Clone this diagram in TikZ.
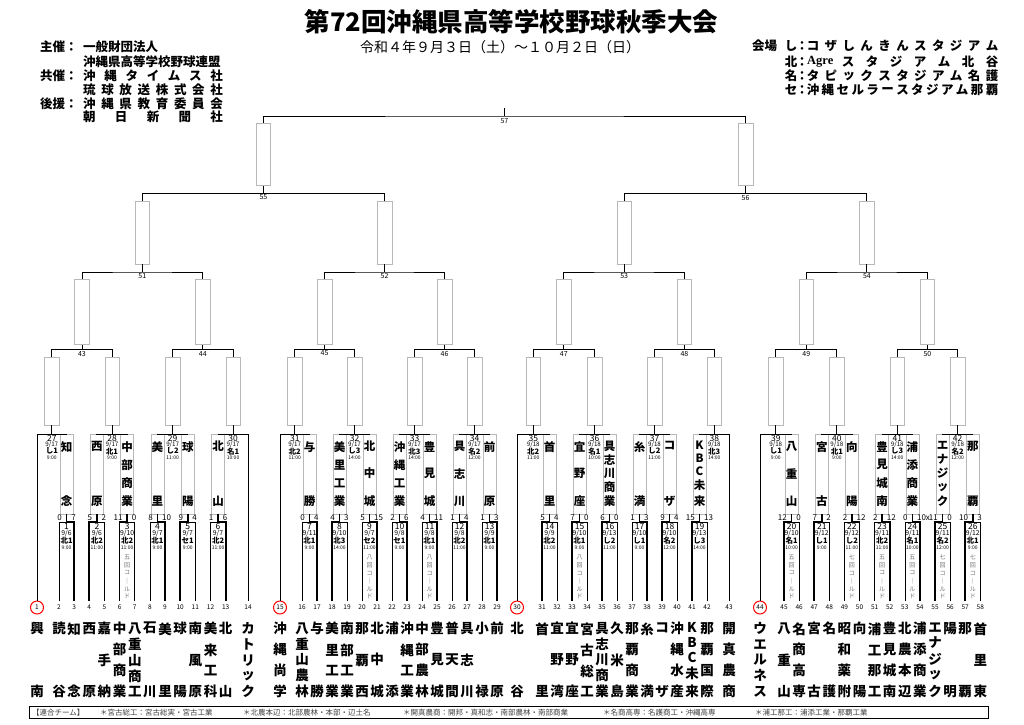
\documentclass[tikz,border=0pt]{standalone}
\usepackage{fontspec}
\setmainfont{Noto Sans CJK JP}
\newfontfamily\serifb{Liberation Serif}
\usetikzlibrary{calc}
\def\vstendmark{\vstendmark}
\newcommand\vst[3]{\edef\vsttmp{#3}\vbox to #1{\offinterlineskip\def\vstw{#2}\expandafter\vstfirst\vsttmp\vstendmark}}
\def\vstfirst#1{\ifx#1\vstendmark\else\hbox to\vstw{\hss#1\hss}\expandafter\vstrest\fi}
\def\vstrest#1{\ifx#1\vstendmark\else\vfill\hbox to\vstw{\hss#1\hss}\expandafter\vstrest\fi}
\tikzset{
 lose/.style={line width=0.6pt},
 winl/.style={line width=1.7pt},
 bline/.style={line width=0.8pt},
 nbox/.style={draw=black!28, line width=0.5pt, minimum width=13pt, minimum height=80pt, inner sep=0pt, anchor=south, font=\bfseries\fontsize{11.5}{11.5}\selectfont},
 ebox/.style={draw=black!28, line width=0.5pt, minimum width=14.5pt, inner sep=0pt, anchor=south},
 tname/.style={inner sep=0pt, font=\bfseries\fontsize{13.5}{13.5}\selectfont},
 tnum/.style={inner sep=0pt, font=\fontsize{6.5}{6.5}\selectfont},
 score/.style={inner sep=0pt, font=\fontsize{8}{8}\selectfont},
 gnum/.style={inner sep=0pt, font=\fontsize{8.5}{8.5}\selectfont},
 gdate/.style={inner sep=0pt, font=\fontsize{6.2}{6.2}\selectfont},
 fdate/.style={inner sep=0pt, font=\fontsize{6.8}{6.8}\selectfont},
 gven/.style={inner sep=0pt, font=\bfseries\fontsize{7.5}{7.5}\selectfont},
 gtime/.style={inner sep=0pt, font=\fontsize{5}{5}\selectfont},
 gnote/.style={inner sep=0pt, text=black!55, font=\fontsize{6}{6}\selectfont},
 lnum/.style={inner sep=0pt, font=\fontsize{7}{7}\selectfont},
 hdr/.style={inner sep=0pt, font=\bfseries\fontsize{12.5}{12.5}\selectfont},
 seedc/.style={circle, draw=red, line width=1pt, minimum size=13pt, inner sep=0pt},
 leg/.style={inner sep=0pt, anchor=west, text=black!75, font=\fontsize{7.5}{7.5}\selectfont},
}
\begin{document}
\begin{tikzpicture}[x=1pt,y=-1pt]
\useasboundingbox (0,0) rectangle (1024,724);
\fill[white] (0,0) rectangle (1024,724);
% ---------- titles
\node[inner sep=0pt, font=\bfseries\fontsize{25.5}{25.5}\selectfont] (title) at (511.5,22) {第72回沖縄県高等学校野球秋季大会};
\node[inner sep=0pt, font=\fontsize{14}{14}\selectfont] (sub) at (500,47) {令和４年９月３日（土）～１０月２日（日）};
% ---------- left header
\node[hdr, anchor=west] (hl1) at (40,47) {主催：};
\node[hdr, anchor=west] (hl2) at (83,47) {一般財団法人};
\node[hdr, anchor=west] (hl3) at (83,62) {沖縄県高等学校野球連盟};
\node[hdr, anchor=west] (hl4) at (40,76) {共催：};
\node[hdr, anchor=west] (hl5) at (40,104) {後援：};
\foreach \c [count=\k] in {沖,縄,タ,イ,ム,ス,社} \node[hdr] (hA\k) at ({89.4+(\k-1)*127.2/6},76) {\c};
\foreach \c [count=\k] in {琉,球,放,送,株,式,会,社} \node[hdr] (hB\k) at ({89.4+(\k-1)*127.2/7},90) {\c};
\foreach \c [count=\k] in {沖,縄,県,教,育,委,員,会} \node[hdr] (hC\k) at ({89.4+(\k-1)*127.2/7},104) {\c};
\foreach \c [count=\k] in {朝,日,新,聞,社} \node[hdr] (hD\k) at ({89.4+(\k-1)*127.2/4},117) {\c};
% ---------- right header
\node[hdr, anchor=west] (hr0) at (752,46) {会場};
\foreach \c/\y [count=\k] in {し/46,北/62,名/76,セ/90} {\node[hdr] (hrL\k) at (791,\y) {\c}; \node[hdr] (hrC\k) at (802,\y) {：};}
\foreach \c [count=\k] in {コ,ザ,し,ん,き,ん,ス,タ,ジ,ア,ム} \node[hdr] (hrA\k) at ({813+(\k-1)*179/10},46) {\c};
\node[inner sep=0pt, anchor=west, font=\serifb\bfseries\fontsize{12.5}{12.5}\selectfont] (hrAg) at (807,62) {Agre};
\foreach \c [count=\k] in {ス,タ,ジ,ア,ム,北,谷} \node[hdr] (hrB\k) at ({848+(\k-1)*144/6},62) {\c};
\foreach \c [count=\k] in {タ,ピ,ッ,ク,ス,タ,ジ,ア,ム,名,護} \node[hdr] (hrC\k) at ({813+(\k-1)*179/10},76) {\c};
\foreach \c [count=\k] in {沖,縄,セ,ル,ラ,ー,ス,タ,ジ,ア,ム,那,覇} \node[hdr] (hrD\k) at ({813+(\k-1)*179/12},90) {\c};
% ---------- teams
\foreach \n/\x/\nm in {1/37/興南,2/59/読谷,3/74.15/知念,4/89.3/西原,5/104.45/嘉手納,6/119.6/中部商業,7/134.75/八重山商工,8/149.9/石川,9/165.05/美里,10/180.2/球陽,11/195.35/南風原,12/210.5/美来工科,13/225.65/北山,14/248/カトリック,15/280/沖縄尚学,16/302/八重山農林,17/317/与勝,18/332/美里工業,19/347/南部工業,20/362/那覇西,21/377/北中城,22/392/浦添,23/407/沖縄工業,24/422/中部農林,25/437/豊見城,26/452/普天間,27/467/具志川,28/482/小禄,29/497/前原,30/517/北谷,31/542/首里,32/557/宜野湾,33/572/宜野座,34/587/宮古総工,35/602/具志川商業,36/617/久米島,37/632/那覇商業,38/647/糸満,39/662/コザ,40/677/沖縄水産,41/692/KBC未来,42/707/那覇国際,43/729/開真農商,44/760/ウエルネス,45/784/八重山,46/799.1/名商高専,47/814.2/宮古,48/829.3/名護,49/844.4/昭和薬附,50/859.5/向陽,51/874.6/浦工那工,52/889.7/豊見城南,53/904.8/北農本辺,54/919.9/浦添商業,55/935/エナジック,56/950.1/陽明,57/965.2/那覇,58/980.3/首里東}
{
 \coordinate (T\n) at (\x,601);
 \node[tnum] (N\n) at (\x,607.5) {\n};
 \node[tname] (TN\n) at (\x,660) {\vst{74pt}{14pt}{\nm}};
}
\foreach \n in {1,15,30,44} \node[seedc] (C\n) at (N\n) {};
% ---------- first round
\foreach \g/\a/\bb/\ww/\scA/\scB/\dd/\vn/\tm/\nt/\wn in {
1/2/3/2/0/7/6/北1/9:00/0/知念,
2/4/5/1/5/2/6/北2/11:00/0/西原,
3/6/7/1/11/0/10/北2/11:00/1/中部商業,
4/8/9/2/8/10/7/北1/9:00/0/美里,
5/10/11/1/9/4/7/セ1/9:00/0/球陽,
6/12/13/2/1/6/7/北2/11:00/0/北山,
7/16/17/2/0/4/11/北1/9:00/0/与勝,
8/18/19/1/4/3/10/北3/14:00/0/美里工業,
9/20/21/2/5/15/7/セ2/11:00/3/北中城,
10/22/23/2/2/6/8/セ1/9:00/0/沖縄工業,
11/24/25/2/4/11/8/北1/9:00/3/豊見城,
12/26/27/2/1/4/8/北2/11:00/0/具志川,
13/28/29/2/1/3/9/北1/9:00/0/前原,
14/31/32/1/5/4/9/北2/11:00/0/首里,
15/33/34/1/7/0/10/北1/9:00/3/宜野座,
16/35/36/1/6/0/13/し2/11:00/0/具志川商業,
17/37/38/2/1/3/10/し1/9:00/0/糸満,
18/39/40/1/9/4/10/名2/12:00/0/コザ,
19/41/42/1/15/13/13/し3/14:00/0/KBC未来,
20/45/46/1/12/0/10/名1/10:00/1/八重山,
21/47/48/1/7/2/12/し1/9:00/0/宮古,
22/49/50/2/2/12/12/し2/11:00/2/向陽,
23/51/52/2/2/12/11/北2/11:00/1/豊見城南,
24/53/54/2/0/10x/11/名1/10:00/1/浦添商業,
25/55/56/1/11/0/11/名2/12:00/2/エナジック,
26/57/58/1/10/3/12/北1/9:00/2/那覇}
{
 \coordinate (G\g) at ($(T\a)!0.5!(T\bb)+(0,-79)$);
 \node[nbox] (W\g) at ($(G\g)+(0,-8)$) {\vst{64pt}{12pt}{\wn}};
 \ifnum\ww=1
   \draw[lose] (T\bb) |- (G\g);
   \draw[winl] (T\a) |- (G\g) -- (W\g.south);
 \else
   \draw[lose] (T\a) |- (G\g);
   \draw[winl] (T\bb) |- (G\g) -- (W\g.south);
 \fi
 \node[score, anchor=east] (SA\g) at ($(G\g)+(-4.5,-4)$) {\scA};
 \node[score, anchor=west] (SB\g) at ($(G\g)+(4.5,-4)$) {\scB};
 \node[gnum] (GN\g) at ($(G\g)+(0,4.6)$) {\g};
 \node[fdate] (GD\g) at ($(G\g)+(0,11.6)$) {9/\dd};
 \node[gven] (GV\g) at ($(G\g)+(0,18.8)$) {\vn};
 \node[gtime] (GT\g) at ($(G\g)+(0,25.8)$) {\tm};
 \ifcase\nt\or\def\ntx{五回コ｜ルド}\or\def\ntx{七回コ｜ルド}\or\def\ntx{八回コ｜ルド}\fi
 \ifnum\nt>0 \node[gnote] (GX\g) at ($(G\g)+(0,55)$) {\vst{44pt}{7pt}{\ntx}};\fi
}
% ---------- second round
\coordinate (Y2) at (0,434);
\foreach \g/\lc/\rc/\dd/\vn/\tm in {27/T1/W1.north/17/し1/9:00, 28/W2.north/W3.north/17/北1/9:00, 29/W4.north/W5.north/17/し2/11:00, 30/W6.north/T14/17/名1/10:00, 31/T15/W7.north/17/北2/11:00, 32/W8.north/W9.north/17/し3/14:00, 33/W10.north/W11.north/17/北3/14:00, 34/W12.north/W13.north/17/名2/12:00, 35/T30/W14.north/18/北2/11:00, 36/W15.north/W16.north/18/名1/10:00, 37/W17.north/W18.north/18/し2/11:00, 38/W19.north/T43/18/北3/14:00, 39/T44/W20.north/18/し1/9:00, 40/W21.north/W22.north/18/北1/9:00, 41/W23.north/W24.north/18/し3/14:00, 42/W25.north/W26.north/18/名2/12:00}
{
 \coordinate (H\g) at ($(\lc |- Y2)!0.5!(\rc |- Y2)$);
 \draw[bline] (\lc) |- (H\g) -| (\rc);
 \node[ebox, minimum height=68pt] (R\g) at ($(H\g)+(0,-9)$) {};
 \draw[bline] (H\g) -- (R\g.south);
 \node[gnum] (L\g) at ($(H\g)+(0,4.5)$) {\g};
 \node[gdate] (LD\g) at ($(H\g)+(0,10.8)$) {9/\dd};
 \node[gven] (LV\g) at ($(H\g)+(0,17.2)$) {\vn};
 \node[gtime] (LT\g) at ($(H\g)+(0,23.6)$) {\tm};
}
% ---------- third round
\foreach \g/\lc/\rc in {43/27/28,44/29/30,45/31/32,46/33/34,47/35/36,48/37/38,49/39/40,50/41/42}
{
 \coordinate (H\g) at ($(R\lc.north)!0.5!(R\rc.north)+(0,-7)$);
 \draw[bline] (R\lc.north) |- (H\g) -| (R\rc.north);
 \node[ebox, minimum height=65pt] (R\g) at ($(H\g)+(0,-5)$) {};
 \draw[bline] (H\g) -- (R\g.south);
 \node[lnum] (L\g) at ($(H\g)+(0,4)$) {\g};
}
% ---------- quarter finals
\foreach \g/\lc/\rc in {51/43/44,52/45/46,53/47/48,54/49/50}
{
 \coordinate (H\g) at ($(R\lc.north)!0.5!(R\rc.north)+(0,-7)$);
 \draw[bline] (R\lc.north) |- (H\g) -| (R\rc.north);
 \node[ebox, minimum height=63pt] (R\g) at ($(H\g)+(0,-8)$) {};
 \draw[bline] (H\g) -- (R\g.south);
 \node[lnum] (L\g) at ($(H\g)+(0,4)$) {\g};
}
% ---------- semi finals
\foreach \g/\lc/\rc in {55/51/52,56/53/54}
{
 \coordinate (H\g) at ($(R\lc.north)!0.5!(R\rc.north)+(0,-7)$);
 \draw[bline] (R\lc.north) |- (H\g) -| (R\rc.north);
 \node[ebox, minimum height=62pt] (R\g) at ($(H\g)+(0,-8)$) {};
 \draw[bline] (H\g) -- (R\g.south);
 \node[lnum] (L\g) at ($(H\g)+(0,4)$) {\g};
}
% ---------- final
\coordinate (H57) at ($(R55.north)!0.5!(R56.north)+(0,-7)$);
\draw[bline] (R55.north) |- (H57) -| (R56.north);
\coordinate (TOP) at ($(H57)+(0,-8)$);
\draw[bline] (H57) -- (TOP);
\node[lnum] (L57) at ($(H57)+(0,5)$) {57};
% ---------- legend
\node[draw, line width=0.8pt, minimum width=959pt, minimum height=11.5pt, inner sep=0pt] (legbox) at (508.5,712.5) {};
\node[leg] (lg0) at (32,712.5) {【連合チーム】};
\node[leg] (lg1) at (100,712.5) {＊宮古総工：宮古総実・宮古工業};
\node[leg] (lg2) at (243,712.5) {＊北農本辺：北部農林・本部・辺土名};
\node[leg] (lg3) at (403,712.5) {＊開真農商：開邦・真和志・南部農林・南部商業};
\node[leg] (lg4) at (603,712.5) {＊名商高専：名護商工・沖縄高専};
\node[leg] (lg5) at (755,712.5) {＊浦工那工：浦添工業・那覇工業};
\end{tikzpicture}
\end{document}
